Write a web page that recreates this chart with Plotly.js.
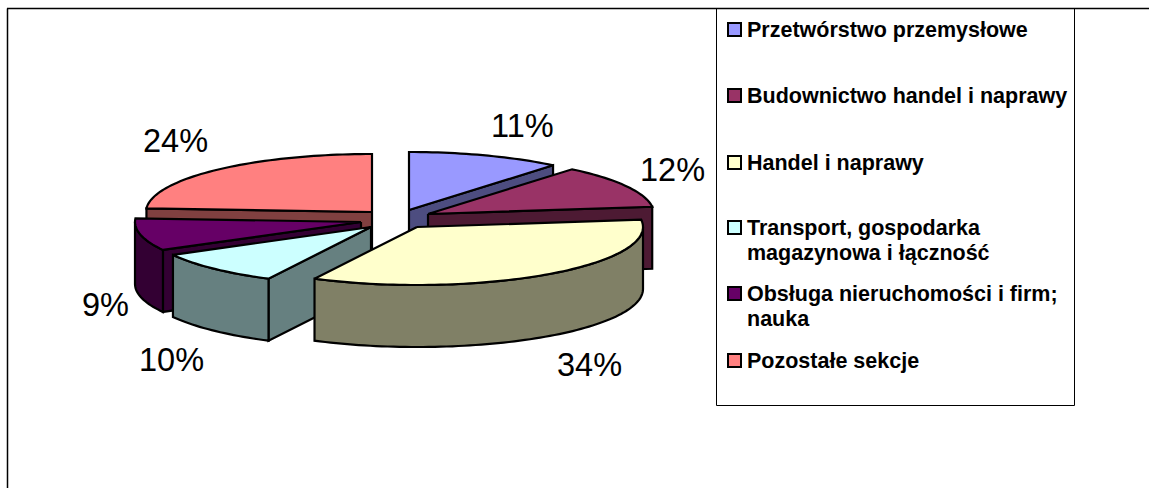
<!DOCTYPE html>
<html>
<head>
<meta charset="utf-8">
<script src="https://cdn.plot.ly/plotly-3.0.1.min.js"></script>
<style>html,body{margin:0;padding:0;background:#fff;overflow:hidden}#chart{width:1149px;height:488px}</style>
</head>
<body>
<div id="chart"></div>
<script>
// ---- data ----
const categories = [
  'Przetwórstwo przemysłowe',
  'Budownictwo handel i naprawy',
  'Handel i naprawy',
  'Transport, gospodarka|magazynowa i łączność',
  'Obsługa nieruchomości i firm;|nauka',
  'Pozostałe sekcje'
];
const shares = [11, 12, 34.49, 9.51, 9, 24];

// ---- style ----
const topColors  = ['#9999FF', '#993366', '#FFFFCC', '#CCFFFF', '#660066', '#FF8080'];
const wallColors = ['#4D4D80', '#4D1A33', '#808066', '#668080', '#330033', '#804040'];

// ---- layout: exploded position of each slice's apex, and the projection ----
const apexX = [409, 428, 417, 371, 361, 372];
const apexY = [210, 214, 227, 227, 222, 212];
const radiusX = 226, radiusY = 58, depth = 62;
const drawOrder = [5, 0, 1, 4, 3, 2];
const labelX = [522, 672, 589, 171, 105, 175];
const labelY = [126, 170, 365, 360, 305, 141];
const legendRowY = [30, 96, 163, 228, 294, 361];
const legendLineGap = 25;

const rad = d => d * Math.PI / 180;
let running = 0;
const starts = [], ends = [];
shares.forEach(v => { starts.push(running * 3.6); running += v; ends.push(running * 3.6); });

function rim(i, t, drop) {
  return [apexX[i] + radiusX * Math.sin(rad(t)), apexY[i] - radiusY * Math.cos(rad(t)) + drop];
}
function poly(pts, color) {
  const xs = pts.map(p => p[0]).concat(pts[0][0]);
  const ys = pts.map(p => p[1]).concat(pts[0][1]);
  return {type: 'scatter', mode: 'lines', x: xs, y: ys, fill: 'toself', fillcolor: color,
          line: {color: '#000', width: 2.2, simplify: false}, hoverinfo: 'skip', showlegend: false};
}
function arc(i, a, b, drop) {
  const pts = [], n = Math.max(2, Math.ceil(Math.abs(b - a) / 1.5));
  for (let k = 0; k <= n; k++) pts.push(rim(i, a + (b - a) * k / n, drop));
  return pts;
}
function radialFace(i, t) {
  return poly([[apexX[i], apexY[i]], rim(i, t, 0), rim(i, t, depth), [apexX[i], apexY[i] + depth]], wallColors[i]);
}

const traces = [];
drawOrder.forEach(i => {
  const a = starts[i], b = ends[i];
  if (Math.sin(rad(a)) < -1e-6) traces.push(radialFace(i, a));
  if (Math.sin(rad(b)) > 1e-6) traces.push(radialFace(i, b));
  const wa = Math.max(a, 90), wb = Math.min(b, 270);
  if (wb > wa) {
    traces.push(poly(arc(i, wa, wb, 0).concat(arc(i, wb, wa, depth)), wallColors[i]));
  }
  traces.push(poly([[apexX[i], apexY[i]]].concat(arc(i, a, b, 0)), topColors[i]));
});

const line = (x0, y0, x1, y1, w) => ({type: 'line', xref: 'x', yref: 'y', x0, y0, x1, y1,
  line: {color: '#000', width: w}});
const shapes = [
  line(7.5, 8.5, 7.5, 488, 1.5),
  line(7, 8.5, 1149, 8.5, 1.5),
  line(716.5, 8.5, 716.5, 405.5, 1),
  line(1074.5, 8.5, 1074.5, 405.5, 1),
  line(716.5, 405.5, 1074.5, 405.5, 1)
];
topColors.forEach((c, i) => shapes.push({type: 'rect', xref: 'x', yref: 'y',
  x0: 728, x1: 741, y0: legendRowY[i] - 7, y1: legendRowY[i] + 6,
  fillcolor: c, line: {color: '#000', width: 2}}));

const annotations = [];
shares.forEach((v, i) => annotations.push({xref: 'x', yref: 'y', x: labelX[i], y: labelY[i],
  text: Math.round(v) + '%', showarrow: false, xanchor: 'center', yanchor: 'middle',
  font: {family: 'Liberation Sans', size: 32.5, color: '#000'}}));
categories.forEach((c, i) => c.split('|').forEach((part, k) => annotations.push({
  xref: 'x', yref: 'y', x: 745, y: legendRowY[i] + k * legendLineGap,
  text: '<b>' + part + '</b>', showarrow: false, xanchor: 'left', yanchor: 'middle', align: 'left',
  font: {family: 'Liberation Sans', size: 21.5, color: '#000'}})));

Plotly.newPlot('chart', traces, {
  width: 1149, height: 488,
  margin: {l: 0, r: 0, t: 0, b: 0, pad: 0},
  paper_bgcolor: '#fff', plot_bgcolor: '#fff',
  xaxis: {range: [0, 1149], visible: false, fixedrange: true},
  yaxis: {range: [488, 0], visible: false, fixedrange: true},
  shapes, annotations, showlegend: false
}, {displayModeBar: false, staticPlot: true});
</script>
</body>
</html>
